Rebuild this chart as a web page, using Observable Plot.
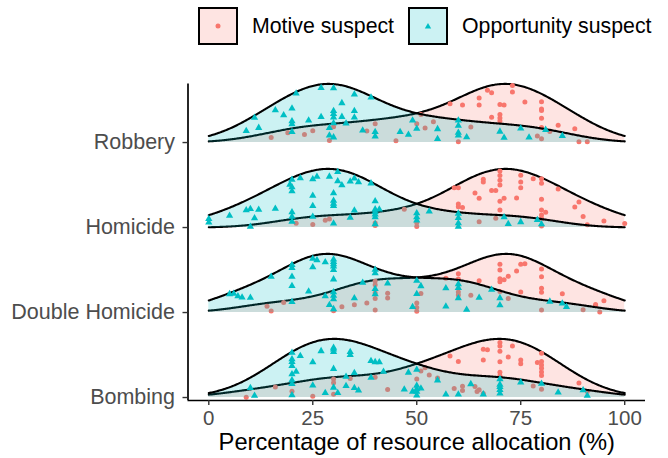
<!DOCTYPE html>
<html><head><meta charset="utf-8">
<script src="https://cdn.jsdelivr.net/npm/d3@7"></script>
<script src="https://cdn.jsdelivr.net/npm/@observablehq/plot@0.6"></script>
<style>
body{margin:0;background:#fff;font-family:"Liberation Sans",Arial,sans-serif;}
#wrap{position:relative;width:668px;height:458px;overflow:hidden;}
#legend{position:absolute;top:7px;left:198px;display:flex;align-items:center;height:38px;font-size:21.3px;color:#000;}
.box{box-sizing:border-box;width:40px;height:38px;border:2px solid #000;display:flex;align-items:center;justify-content:center;}
.lab{margin-left:14px;margin-right:14px;white-space:nowrap;}
</style></head><body><div id="wrap"><div id="legend"></div></div>
<script>
// Categories (bottom to top) and tick labels
const categories = ["Bombing", "Double Homicide", "Homicide", "Robbery"];
const xTicks = [0, 25, 50, 75, 100];
const groups = ["Motive suspect", "Opportunity suspect"];
const colors = ["#F8766D", "#00BFC4"];
const bandwidth = 9; // kernel bandwidth (allocation %)

// [allocation %, vertical jitter fraction within the ridge]
const robberyMotive = [[73,.98],[73,.87],[67,.93],[68,.87],[65,.83],[65,.70],[58,.95],[61,.81],[70,.65],[71,.64],[70,.48],[70,.42],[70,.37],[76,.73],[80,.84],[80,.69],[80,.66],[80,.50],[80,.31],[68,.44],[84,.44],[88,.47],[82,.25],[79,.13],[80,.08],[89,.03],[91,.04],[15,.5],[19,.73],[23,.5],[25,.7],[29,.11],[30,.83],[40,.82],[38,.53],[45,.07],[51,.92],[50,.64],[52,.46],[54,.61],[60,.02],[63,.31]];
const robberyOpportunity = [[30,.93],[27,.94],[21,.97],[35,.9],[39,.97],[32,.69],[30,.54],[30,.49],[30,.43],[35,.59],[35,.47],[32,.45],[20,.7],[16,.82],[18,.62],[11,.92],[24,.4],[27,.44],[20,.44],[20,.38],[20,.22],[12,.5],[9,.52],[30,.33],[33,.34],[29,.25],[29,.12],[30,.09],[37,.24],[40,.24],[40,.14],[46,.31],[48,.25],[49,.73],[50,.47],[55,.53],[55,.14],[60,.97],[60,.74],[60,.43],[60,.31],[62,.24],[70,.58],[71,.26],[75,.83],[77,.32],[81,.95],[85,.66]];
const homicideMotive = [[70,.97],[70,.89],[70,.81],[70,.73],[75,.92],[75,.8],[75,.7],[78,.92],[80,.98],[80,.89],[80,.57],[80,.35],[80,.25],[80,.18],[80,.03],[66,.88],[66,.83],[84,.92],[59,.97],[60,.92],[64,.67],[68,.65],[69,.64],[65,.55],[70,.45],[71,.5],[74,.51],[60,.54],[60,.48],[61,.44],[70,.3],[89,.82],[88,.62],[81,.32],[90,.38],[95,.33],[100,.33],[91,.1],[21,.46],[25,.27],[28,.62],[29,.69],[40,.3],[40,.13],[47,.9],[50,.2],[50,.04],[65,.11],[69,.16]];
const homicideOpportunity = [[31,.96],[29,.87],[26,.88],[25,.85],[22,.93],[31,.8],[32,.74],[34,.84],[35,.92],[36,.88],[39,.97],[20,.96],[19.5,.88],[20,.81],[20,.73],[25,.56],[30,.59],[30,.46],[30,.41],[30,.37],[25,.38],[40,.61],[16,.45],[12,.54],[10,.64],[9,.64],[5,.6],[0,.7],[0,.42],[11,.3],[10,.03],[20,.31],[20,.22],[20,.12],[25,.19],[30,.07],[34,.18],[35,.32],[40,.42],[40,.36],[40,.3],[40,.24],[40,.08],[41,.44],[50,.6],[50,.44],[50,.3],[53,.8],[60,.91],[60,.63],[60,.29],[60,.06],[71,.85],[72,.3],[75,.5],[79,.85],[80,.4]];
const doubleMotive = [[70,.83],[70,.73],[70,.58],[70,.53],[70,.36],[71,.56],[72,.62],[74,.72],[75,.85],[76,.88],[65,.6],[60,.87],[60,.75],[57,.85],[80,.9],[80,.74],[80,.5],[80,.42],[75,.36],[85,.5],[72,.24],[95,.6],[93,.3],[93,.35],[94,.03],[90,.1],[80,.05],[63,.35],[14,.65],[15,.15],[18,.87],[30,.08],[32,.24],[35,.28],[38,.31],[40,.97],[40,.85],[40,.6],[40,.43],[40,.08],[43,.57],[43,.43],[50,.27],[50,.14],[50,.04],[51,.54],[60,.46],[60,.39]];
const doubleOpportunity = [[30,.91],[30,.87],[30,.83],[30,.79],[30,.73],[25,.95],[26,.91],[28,.86],[20,.98],[20,.92],[20,.74],[20,.55],[20,.22],[25,.8],[30,.57],[40,.96],[40,.88],[37,.6],[15,.95],[24,.38],[30,.35],[30,.29],[30,.23],[28,.28],[29,.13],[30,.06],[43,.72],[35,.27],[40,.53],[40,.41],[10,.53],[5,.95],[6,.9],[7,.72],[8,.62],[50,.91],[51,.76],[50,.53],[49,.16],[57,.72],[60,.87],[60,.76],[60,.44],[57,.18],[62,.09],[65,.53],[68,.93],[70,.66],[70,.34],[82,.95],[85,.9],[86,.6]];
const bombingMotive = [[70,.94],[70,.88],[70,.79],[70,.61],[70,.43],[70,.37],[73,.9],[66,.85],[67,.83],[66,.66],[72,.7],[75,.68],[75,.61],[80,.97],[79,.73],[80,.79],[80,.71],[80,.64],[80,.56],[80,.48],[58,.9],[60,.73],[89,.65],[78,.23],[91,.34],[9,.05],[16,.87],[20,.42],[25,.07],[30,.91],[30,.73],[30,.16],[34,.88],[40,.85],[43,.31],[50,.55],[51,.75],[52,.81],[53,.59],[55,.47],[59,.19],[61,.22],[61,.14],[64,.2],[65,.14],[64.5,.11],[66,.07],[80,.18]];
const bombingOpportunity = [[30,.85],[30,.82],[30,.78],[27,.81],[34,.8],[34,.75],[20,.98],[20,.84],[20,.78],[20,.69],[22,.83],[25,.64],[21,.54],[20,.51],[20,.38],[20,.3],[30,.49],[39,.72],[40,.72],[41,.74],[42,.56],[35,.44],[33,.36],[39,.39],[25,.22],[28,.08],[30,.17],[31,.08],[33,.2],[35,.17],[36,.13],[10,.48],[11,.08],[20,.05],[48,.68],[50,.82],[47,.21],[49,.17],[50,.35],[50,.25],[50,.17],[50,.06],[51,.28],[55,.62],[57,.12],[60,.13],[63,.6],[66,.15],[70,.91],[70,.64],[70,.52],[70,.38],[70,.2],[75,.85],[80,.95],[84,.42],[90,.9],[91,.25]];

const series = [
  [bombingMotive, bombingOpportunity],
  [doubleMotive, doubleOpportunity],
  [homicideMotive, homicideOpportunity],
  [robberyMotive, robberyOpportunity]
];

// --- gaussian kernel density ---
// Each participant splits 100% between the two suspects (opportunity = 100 - motive),
// so both readings of a row are pooled into one motive distribution and mirrored.
const bw = bandwidth;
const kde = xs => x => d3.sum(xs, v => Math.exp(-0.5 * ((x - v) / bw) ** 2)) / (xs.length * bw * Math.sqrt(2 * Math.PI));
const grid = d3.range(0, 100.0001, 0.25);
const ridgeScale = 0.69;

const marks = [];
for (let ci = categories.length - 1; ci >= 0; ci--) {
  const [mot, opp] = series[ci];
  const pooled = mot.map(d => d[0]).concat(opp.map(d => 100 - d[0]));
  const raw = kde(pooled);
  const m = d3.max(grid, raw);
  const fns = [x => raw(x) / m * ridgeScale, x => raw(100 - x) / m * ridgeScale];
  [mot, opp].forEach((pts, gi) => {
    const f = fns[gi];
    const curve = grid.map(x => ({x, y1: ci, y2: ci + f(x)}));
    marks.push(Plot.areaY(curve, {x: "x", y1: "y1", y2: "y2", fill: colors[gi], fillOpacity: 0.2}));
    marks.push(Plot.line(curve, {x: "x", y: "y2", stroke: "#000", strokeWidth: 2.1}));
    const dots = pts.map(([x, j]) => ({x, y: ci + j * f(x)}));
    marks.push(Plot.dot(dots, {x: "x", y: "y", fill: colors[gi], stroke: "none", r: gi === 0 ? 2.5 : 2.7, symbol: gi === 0 ? "circle" : "triangle"}));
  });
}

const yMin = -0.035, yMax = 3.69;
const chart = Plot.plot({
  width: 668, height: 458,
  marginLeft: 187.5, marginRight: 23, marginTop: 83.4, marginBottom: 58,
  style: {fontFamily: "'Liberation Sans', Arial, sans-serif", background: "#fff"},
  x: {domain: [-5, 105], axis: null},
  y: {domain: [yMin, yMax], axis: null},
  marks: [
    ...marks,
    Plot.ruleX([-5], {stroke: "#000", strokeWidth: 1.7}),
    Plot.ruleY([yMin], {stroke: "#000", strokeWidth: 1.7}),
    Plot.axisY({ticks: [0, 1, 2, 3], tickFormat: i => categories[i], tickSize: 5, tickPadding: 8, fontSize: 21.5, fill: "#4d4d4d", stroke: "#333", strokeWidth: 1.4, label: null}),
    Plot.axisX({ticks: xTicks, tickSize: 5, tickPadding: 5, fontSize: 20.5, fill: "#4d4d4d", stroke: "#333", strokeWidth: 1.4, label: null}),
    Plot.text(["Percentage of resource allocation (%)"], {frameAnchor: "bottom", dy: 49, fontSize: 23.7, fill: "#000", lineAnchor: "bottom"})
  ]
});
const wrap = document.getElementById("wrap");
wrap.insertBefore(chart, wrap.firstChild);

// legend
const legend = document.getElementById("legend");
groups.forEach((g, gi) => {
  const box = document.createElement("div");
  box.className = "box";
  box.style.background = gi === 0 ? "rgba(248,118,109,0.2)" : "rgba(0,191,196,0.2)";
  box.innerHTML = gi === 0
    ? `<svg width="8" height="8"><circle cx="4" cy="4" r="2.5" fill="${colors[0]}"/></svg>`
    : `<svg width="8" height="8"><path d="M4,1 L7.2,6.6 L0.8,6.6 Z" fill="${colors[1]}"/></svg>`;
  const lab = document.createElement("span");
  lab.className = "lab";
  lab.textContent = g;
  legend.appendChild(box);
  legend.appendChild(lab);
});
</script>
</body></html>
